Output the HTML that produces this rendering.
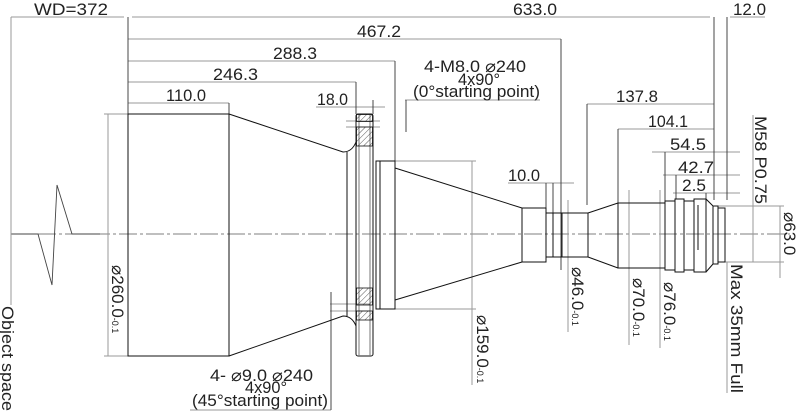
<!DOCTYPE html>
<html><head><meta charset="utf-8"><style>
html,body{margin:0;padding:0;background:#fff}
svg{display:block}
text{font-family:"Liberation Sans",sans-serif;fill:#222;font-size:17px}
.s{font-size:9px}
</style></head><body>
<svg width="800" height="416" viewBox="0 0 800 416" xmlns="http://www.w3.org/2000/svg">
<defs>
<pattern id="h" width="4" height="4" patternUnits="userSpaceOnUse" patternTransform="rotate(45)">
<line x1="0" y1="0" x2="0" y2="4" stroke="#333" stroke-width="0.8"/></pattern>
</defs>
<line x1="11" y1="234" x2="790" y2="234" stroke="#555" stroke-width="0.8" stroke-dasharray="18,3,3,3"/>
<polyline points="11,234 38,234 52,285 57,185 72,234 100,234" fill="none" stroke="#444" stroke-width="0.9"/>

<g fill="none" stroke="#9a9a9a" stroke-width="1">
<line x1="11" y1="17" x2="11" y2="305"/>
<line x1="11" y1="17" x2="124" y2="17"/>
<line x1="132" y1="17" x2="710" y2="17"/>
<line x1="730" y1="17" x2="765" y2="17"/>
<line x1="128" y1="39" x2="561" y2="39"/>
<line x1="128" y1="61" x2="395" y2="61"/>
<line x1="128" y1="82" x2="356" y2="82"/>
<line x1="128" y1="103" x2="229" y2="103"/>
<line x1="316" y1="107" x2="385" y2="107"/>
<line x1="587" y1="104" x2="714" y2="104"/>
<line x1="618" y1="129" x2="714" y2="129"/>
<line x1="652" y1="152" x2="740" y2="152"/>
<line x1="663" y1="175" x2="740" y2="175"/>
<line x1="673" y1="193" x2="740" y2="193"/>
<line x1="508" y1="183" x2="574" y2="183"/>
<line x1="108" y1="114" x2="108" y2="356"/>
<line x1="104" y1="114" x2="128" y2="114"/>
<line x1="104" y1="356" x2="128" y2="356"/>
<line x1="472" y1="161" x2="472" y2="385"/>
<line x1="395" y1="161" x2="476" y2="161"/>
<line x1="395" y1="309" x2="476" y2="309"/>
<line x1="568" y1="200" x2="568" y2="332"/>
<line x1="629" y1="190" x2="629" y2="345"/>
<line x1="660" y1="190" x2="660" y2="348"/>
<line x1="780" y1="206" x2="780" y2="278"/>
<line x1="718" y1="206" x2="784" y2="206"/>
<line x1="718" y1="262" x2="784" y2="262"/>
<line x1="753" y1="115" x2="753" y2="262"/>
<line x1="727" y1="262" x2="727" y2="393"/>
<line x1="405" y1="100" x2="540" y2="100"/>
<line x1="190" y1="410" x2="331" y2="410"/>
<line x1="346" y1="121" x2="380" y2="121"/>
<line x1="346" y1="127" x2="380" y2="127"/>
<line x1="330" y1="304" x2="370" y2="304"/>
<line x1="330" y1="311" x2="370" y2="311"/>
</g>
<g fill="none" stroke="#333" stroke-width="0.9">
<line x1="128" y1="17" x2="128" y2="114"/>
<line x1="714" y1="17" x2="714" y2="200"/>
<line x1="727" y1="17" x2="727" y2="200"/>
<line x1="561" y1="39" x2="561" y2="270"/>
<line x1="395" y1="61" x2="395" y2="161"/>
<line x1="356" y1="82" x2="356" y2="114"/>
<line x1="229" y1="103" x2="229" y2="114"/>
<line x1="373" y1="100" x2="373" y2="114"/>
<line x1="587" y1="104" x2="587" y2="205"/>
<line x1="618" y1="129" x2="618" y2="203"/>
<line x1="665" y1="152" x2="665" y2="203"/>
<line x1="676" y1="175" x2="676" y2="199"/>
<line x1="706" y1="193" x2="706" y2="205"/>
<line x1="546" y1="183" x2="546" y2="208"/>
<line x1="553" y1="183" x2="553" y2="213"/>
<line x1="406" y1="100" x2="406" y2="132"/>
<line x1="331" y1="410" x2="331" y2="292"/>
</g>
<g fill="none" stroke="#111" stroke-width="1">
<rect x="128" y="114" width="101" height="242"/>
<path d="M229,114 L343,152 Q352,152 356,142"/>
<path d="M229,356 L343,316 Q352,316 356,326"/>
<line x1="347" y1="152" x2="347" y2="316"/>
<rect x="356" y="114" width="17" height="242" rx="2"/>
<line x1="359" y1="114" x2="359" y2="356" stroke="#777"/>
<line x1="370" y1="114" x2="370" y2="356" stroke="#777"/>
<rect x="376" y="161" width="19" height="148"/>
<line x1="380" y1="161" x2="380" y2="309"/>
<path d="M395,168 L522,208 M395,300 L522,262"/>
<rect x="522" y="208" width="24" height="54"/>
<rect x="546" y="213" width="7" height="44"/>
<rect x="553" y="213" width="9" height="44"/>
<rect x="562" y="213" width="26" height="44"/>
<path d="M588,213 L618,203 M588,257 L618,268"/>
<rect x="618" y="203" width="47" height="65"/>
<rect x="665" y="201" width="10" height="69"/>
<rect x="675" y="199" width="9" height="73"/>
<rect x="684" y="201" width="10" height="69"/>
<rect x="694" y="199" width="12" height="73"/>
<line x1="698" y1="205" x2="698" y2="250"/>
<path d="M706,199 L713,206 L713,264 L706,272"/>
<rect x="713" y="206" width="5" height="58"/>
<rect x="718" y="208" width="7" height="54"/>
</g>
<rect x="356.5" y="114.5" width="16" height="7" fill="url(#h)" stroke="#111" stroke-width="0.8"/>
<rect x="356.5" y="127" width="16" height="19" fill="url(#h)" stroke="#111" stroke-width="0.8"/>
<rect x="356.5" y="288" width="16" height="17" fill="url(#h)" stroke="#111" stroke-width="0.8"/>
<rect x="356.5" y="311" width="16" height="9" fill="url(#h)" stroke="#111" stroke-width="0.8"/>

<text x="34" y="15" textLength="74" lengthAdjust="spacingAndGlyphs">WD=372</text>
<text x="513" y="15" textLength="44" lengthAdjust="spacingAndGlyphs">633.0</text>
<text x="733" y="15" textLength="33" lengthAdjust="spacingAndGlyphs">12.0</text>
<text x="357" y="37" textLength="44" lengthAdjust="spacingAndGlyphs">467.2</text>
<text x="273" y="59" textLength="44" lengthAdjust="spacingAndGlyphs">288.3</text>
<text x="213" y="80" textLength="45" lengthAdjust="spacingAndGlyphs">246.3</text>
<text x="166" y="101" textLength="40" lengthAdjust="spacingAndGlyphs">110.0</text>
<text x="317" y="105" textLength="31" lengthAdjust="spacingAndGlyphs">18.0</text>
<text x="424" y="72" textLength="102" lengthAdjust="spacingAndGlyphs">4-M8.0 ⌀240</text>
<text x="458" y="85" textLength="42" lengthAdjust="spacingAndGlyphs">4x90°</text>
<text x="413" y="97" textLength="127" lengthAdjust="spacingAndGlyphs">(0°starting point)</text>
<text x="616" y="102" textLength="42" lengthAdjust="spacingAndGlyphs">137.8</text>
<text x="648" y="127" textLength="40" lengthAdjust="spacingAndGlyphs">104.1</text>
<text x="670" y="150" textLength="36" lengthAdjust="spacingAndGlyphs">54.5</text>
<text x="678" y="173" textLength="36" lengthAdjust="spacingAndGlyphs">42.7</text>
<text x="682" y="191" textLength="24" lengthAdjust="spacingAndGlyphs">2.5</text>
<text x="508" y="181" textLength="32" lengthAdjust="spacingAndGlyphs">10.0</text>
<text x="210" y="381" textLength="103" lengthAdjust="spacingAndGlyphs">4- ⌀9.0 ⌀240</text>
<text x="245" y="393" textLength="42" lengthAdjust="spacingAndGlyphs">4x90°</text>
<text x="192" y="406" textLength="136" lengthAdjust="spacingAndGlyphs">(45°starting point)</text>
<text transform="translate(2,306) rotate(90)" textLength="105" lengthAdjust="spacingAndGlyphs">Object space</text>
<text transform="translate(112,265) rotate(90)">⌀260.0<tspan class="s">-0.1</tspan></text>
<text transform="translate(477,315) rotate(90)">⌀159.0<tspan class="s">-0.1</tspan></text>
<text transform="translate(572,267) rotate(90)">⌀46.0<tspan class="s">-0.1</tspan></text>
<text transform="translate(633,278) rotate(90)">⌀70.0<tspan class="s">-0.1</tspan></text>
<text transform="translate(664,282) rotate(90)">⌀76.0<tspan class="s">-0.1</tspan></text>
<text transform="translate(784,212) rotate(90)">⌀63.0</text>
<text transform="translate(755,116) rotate(90)" textLength="88" lengthAdjust="spacingAndGlyphs">M58 P0.75</text>
<text transform="translate(731,264) rotate(90)" textLength="129" lengthAdjust="spacingAndGlyphs">Max 35mm Full</text>
</svg>
</body></html>
